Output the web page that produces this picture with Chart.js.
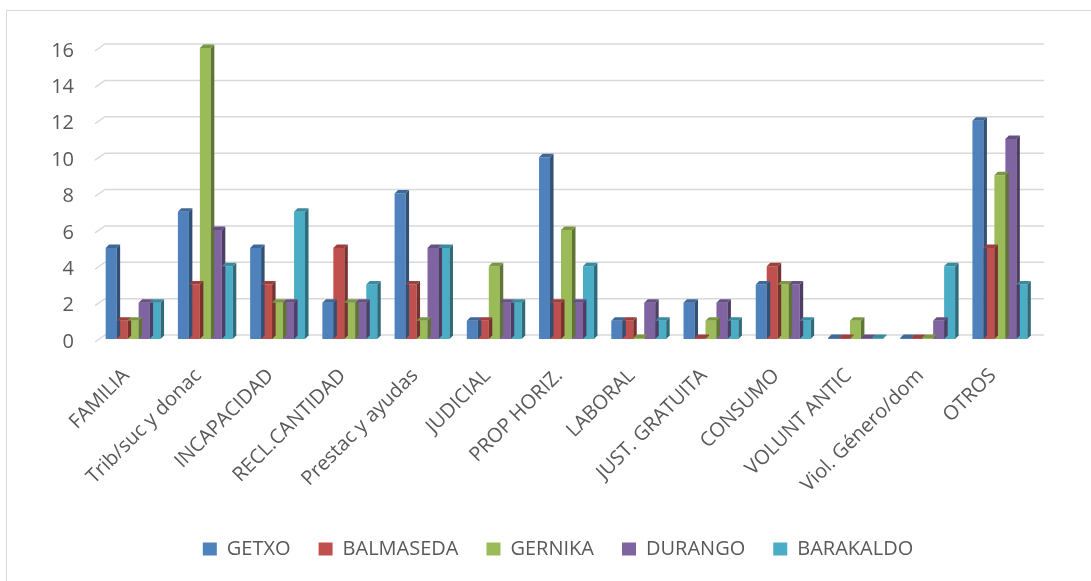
<!DOCTYPE html>
<html>
<head>
<meta charset="utf-8">
<script src="https://cdn.jsdelivr.net/npm/chart.js@4.4.1/dist/chart.umd.min.js"></script>
<style>
  html, body { margin: 0; padding: 0; background: #fff; overflow: hidden; }
  #frame {
    position: absolute; left: 6px; top: 10px; width: 1100px; height: 600px;
    border: 1.5px solid #d9d9d9; box-sizing: border-box;
  }
  #wrap { position: absolute; left: 0; top: 0; width: 1091px; height: 581px; }
</style>
</head>
<body>
<div id="frame"></div>
<div id="wrap"><canvas id="chart"></canvas></div>
<script>
const categories = ['FAMILIA', 'Trib/suc y donac', 'INCAPACIDAD', 'RECL.CANTIDAD', 'Prestac y ayudas',
    'JUDICIAL', 'PROP HORIZ.', 'LABORAL', 'JUST. GRATUITA', 'CONSUMO', 'VOLUNT ANTIC',
    'Viol. Género/dom', 'OTROS'];
const getxo     = [5, 7, 5, 2, 8, 1, 10, 1, 2, 3, 0, 0, 12];
const balmaseda = [1, 3, 3, 5, 3, 1, 2, 1, 0, 4, 0, 0, 5];
const gernika   = [1, 16, 2, 2, 1, 4, 6, 0, 1, 3, 1, 0, 9];
const durango   = [2, 6, 2, 2, 5, 2, 2, 2, 2, 3, 0, 1, 11];
const barakaldo = [2, 4, 7, 3, 5, 2, 4, 1, 1, 1, 0, 4, 3];
const yTicks = [0, 2, 4, 6, 8, 10, 12, 14, 16];

const font = "'Open Sans', 'DejaVu Sans', sans-serif";

function shade(hex, f) {
    const n = parseInt(hex.slice(1), 16);
    const r = Math.round(((n >> 16) & 255) * f);
    const g = Math.round(((n >> 8) & 255) * f);
    const b = Math.round((n & 255) * f);
    return `rgb(${r},${g},${b})`;
}

// fake Excel 3D look: back-wall gridlines + side and top faces on each bar
const bar3d = {
    id: 'bar3d',
    beforeDatasetsDraw(chart) {
        const { ctx, chartArea, scales } = chart;
        const dx = 8, dy = 4;
        ctx.save();
        ctx.strokeStyle = '#d9d9d9';
        ctx.lineWidth = 1.5;
        yTicks.forEach(v => {
            const y = scales.y.getPixelForValue(v) - dy;
            ctx.beginPath();
            ctx.moveTo(chartArea.left + dx - 10, y + 7);
            ctx.lineTo(chartArea.left + dx, y);
            ctx.lineTo(chartArea.right + dx, y);
            ctx.stroke();
        });
        ctx.restore();
    },
    afterDatasetsDraw(chart) {
        const { ctx } = chart;
        const d = 3.5;
        ctx.save();
        chart.data.datasets.forEach((ds, i) => {
            const meta = chart.getDatasetMeta(i);
            meta.data.forEach(bar => {
                const { x, y, base, width } = bar.getProps(['x', 'y', 'base', 'width'], true);
                const l = x - width / 2, r = x + width / 2;
                // side face
                ctx.fillStyle = shade(ds.backgroundColor, 0.62);
                ctx.beginPath();
                ctx.moveTo(r, y);
                ctx.lineTo(r + d, y - d);
                ctx.lineTo(r + d, base - d);
                ctx.lineTo(r, base);
                ctx.closePath();
                ctx.fill();
                // top face
                ctx.fillStyle = shade(ds.backgroundColor, 0.8);
                ctx.beginPath();
                ctx.moveTo(l, y);
                ctx.lineTo(l + d, y - d);
                ctx.lineTo(r + d, y - d);
                ctx.lineTo(r, y);
                ctx.closePath();
                ctx.fill();
            });
        });
        ctx.restore();
    }
};

function series(label, data, color) {
    return {
        label: label,
        data: data,
        backgroundColor: color,
        borderWidth: 0,
        minBarLength: 1,
        barPercentage: 1.0,
        categoryPercentage: 0.76
    };
}

new Chart(document.getElementById('chart').getContext('2d'), {
    type: 'bar',
    data: {
        labels: categories,
        datasets: [
            series('GETXO', getxo, '#4f81bd'),
            series('BALMASEDA', balmaseda, '#c0504d'),
            series('GERNIKA', gernika, '#9bbb59'),
            series('DURANGO', durango, '#8064a2'),
            series('BARAKALDO', barakaldo, '#4bacc6')
        ]
    },
    options: {
        responsive: true,
        maintainAspectRatio: false,
        animation: false,
        layout: { padding: { left: 42, right: 17, top: 48, bottom: 12 } },
        scales: {
            x: {
                grid: { display: false },
                border: { display: false },
                afterFit(axis) { axis.height = 172; },
                ticks: {
                    color: '#595959',
                    font: { size: 20, family: font },
                    maxRotation: 45,
                    minRotation: 45,
                    labelOffset: -7,
                    padding: 17
                }
            },
            y: {
                min: 0,
                max: 16,
                border: { display: false },
                grid: { display: false },
                afterBuildTicks(axis) { axis.ticks = yTicks.map(v => ({ value: v })); },
                afterFit(axis) { axis.width = 55; },
                ticks: {
                    color: '#595959',
                    font: { size: 20, family: font },
                    padding: 15,
                    labelOffset: 3
                }
            },
            // empty spacer on the right so the legend sits off-centre like Excel's
            spacer: {
                type: 'linear',
                position: 'right',
                grid: { display: false },
                border: { display: false },
                ticks: { display: false },
                afterFit(axis) { axis.width = 38; }
            }
        },
        plugins: {
            legend: {
                position: 'bottom',
                labels: {
                    color: '#595959',
                    font: { size: 20, family: font },
                    boxWidth: 14,
                    boxHeight: 13,
                    padding: 28
                }
            },
            tooltip: { enabled: false }
        }
    },
    plugins: [bar3d]
});
</script>
</body>
</html>
